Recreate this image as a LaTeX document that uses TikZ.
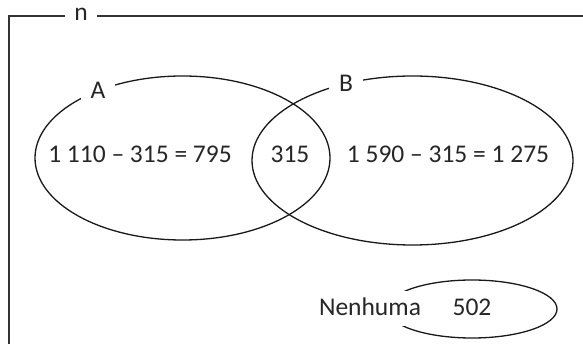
\documentclass[tikz,border=0pt]{standalone}
\usepackage{fontspec}
\setmainfont{Carlito}
\usetikzlibrary{shapes.geometric}
\begin{document}
\begin{tikzpicture}[x=1pt,y=-1pt,
  set/.style={draw=black!90, ellipse, line width=1.3pt, inner sep=0pt},
  lbl/.style={font=\fontsize{25.5}{30}\selectfont, anchor=base, inner sep=0pt, text=black!85},
  gaplbl/.style={lbl, fill=white, inner xsep=10pt, inner ysep=3pt}]
\useasboundingbox (0,0) rectangle (583,344);
\clip (0,0) rectangle (583,344);
\node[draw=black!80, line width=2pt, anchor=north west, minimum width=620pt, minimum height=360pt, inner sep=0pt] (frame) at (8,15) {};
\node[gaplbl, inner xsep=9pt] (n) at (81,21) {n};
\node[set, minimum width=295pt, minimum height=164pt] (A) at (182.5,158) {};
\node[set, minimum width=321pt, minimum height=169pt] (B) at (412.5,160.5) {};
\node[set, minimum width=170pt, minimum height=58pt] (N) at (472,309) {};
\node[lbl] (ta) at (140,163) {1 110 – 315 = 795};
\node[lbl] (tab) at (290,163) {315};
\node[lbl] (tb) at (448,163) {1 590 – 315 = 1 275};
\node[gaplbl] (la) at (98,99) {A};
\node[gaplbl] (lb) at (346,92) {B};
\node[lbl, fill=white, text height=17pt, text depth=2pt, inner ysep=8pt, inner xsep=4pt] (nen) at (370,316) {Nenhuma};
\node[lbl] (v) at (472,316) {502};
\end{tikzpicture}
\end{document}
